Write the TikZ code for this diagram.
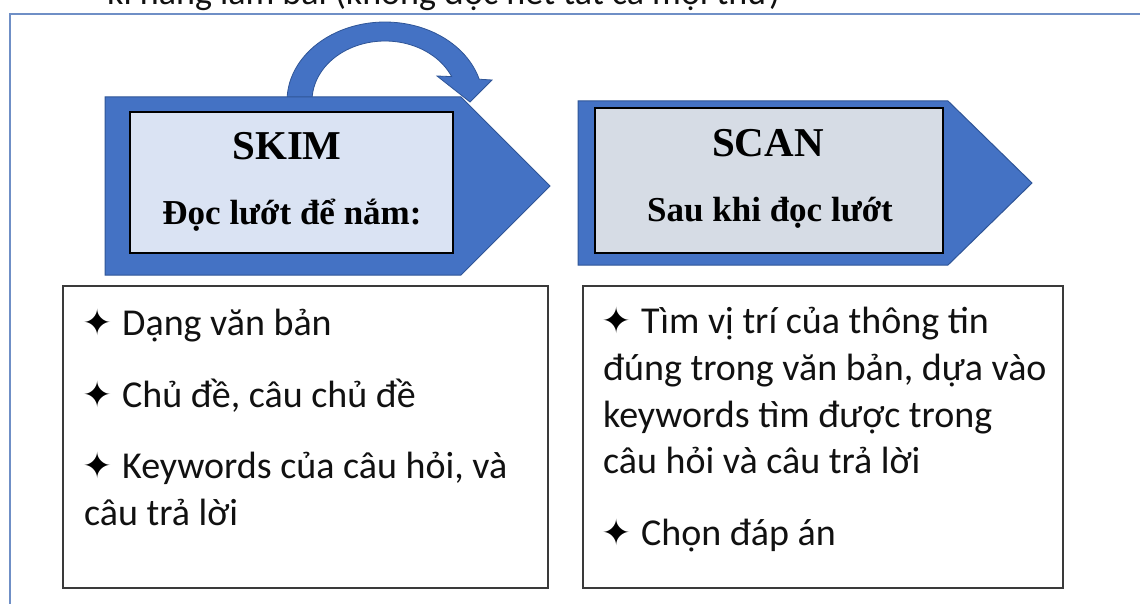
\documentclass[tikz,border=0pt]{standalone}
\usepackage{fontspec}
\setmainfont{Carlito}
\newfontfamily\hdfont{Liberation Serif}
\newfontfamily\symfont{DejaVu Sans}
\definecolor{arrblue}{HTML}{4472C4}
\definecolor{arredge}{HTML}{2F5597}
\definecolor{skimfill}{HTML}{DAE3F3}
\definecolor{scanfill}{HTML}{D6DCE5}
\definecolor{framecol}{HTML}{6F8FC6}
\definecolor{boxedge}{HTML}{3A3A3A}
\definecolor{txt}{HTML}{111111}
\begin{document}
\begin{tikzpicture}[x=1pt,y=-1pt,
  bodytext/.style={font=\fontsize{38}{47}\selectfont, anchor=base west, inner sep=0pt, text=txt},
  startext/.style={font=\symfont\fontsize{36}{42}\selectfont, anchor=base west, inner sep=0pt, text=black},
  headtext/.style={font=\hdfont\bfseries\fontsize{41}{48}\selectfont, anchor=base, inner sep=0pt, text=black},
  subtext/.style={font=\hdfont\bfseries\fontsize{35}{40}\selectfont, anchor=base, inner sep=0pt, text=black},
  pent/.style={fill=arrblue, draw=arredge, line width=1pt, line join=miter},
  innerbox/.style={draw=black, line width=1.8pt},
  listbox/.style={draw=boxedge, line width=2pt, fill=white},
  framel/.style={draw=framecol, line width=2.5pt}]
\useasboundingbox (0,0) rectangle (1140,604);
\clip (0,0) rectangle (1140,604);
\fill[white] (0,0) rectangle (1140,604);
% heading cut off at top
\node[bodytext, font=\fontsize{36}{44}\selectfont] (title) at (107,5) {kĩ năng làm bài (không đọc hết tất cả mọi thứ)};
% outer frame
\draw[framel] (10,610) -- (10,14) -- (1150,14);
% curved arrow
\fill[arrblue, draw=arredge, line width=0.8pt]
  plot[domain=180:16, samples=50] ({385+98*cos(\x)},{101-79*sin(\x)})
  -- (492,80) -- (470,102) -- (437,76)
  -- plot[domain=24:180, samples=50] ({385+73*cos(\x)},{101-60*sin(\x)}) -- cycle;
% pentagon arrows
\path[pent] (105,97) -- (461,97) -- (550,186) -- (461,275) -- (105,275) -- cycle;
\path[pent] (578,101) -- (948,101) -- (1032,183) -- (948,265) -- (578,265) -- cycle;
\draw[innerbox, fill=skimfill] (130,112) rectangle (453,253);
\draw[innerbox, fill=scanfill] (595,108) rectangle (943,253);
\node[headtext] (skim) at (287,160) {SKIM};
\node[subtext] (skimsub) at (292,225) {Đọc lướt để nắm:};
\node[headtext] (scan) at (768,157) {SCAN};
\node[subtext] (scansub) at (770,222) {Sau khi đọc lướt};
% list boxes
\draw[listbox] (63,286) rectangle (548,588);
\draw[listbox] (583,286) rectangle (1063,588);
% left list
\node[startext] (ls1) at (82,335) {✦};
\node[bodytext] (lt1) at (122,335) {Dạng văn bản};
\node[startext] (ls2) at (82,407) {✦};
\node[bodytext] (lt2) at (122,407) {Chủ đề, câu chủ đề};
\node[startext] (ls3) at (82,478) {✦};
\node[bodytext] (lt3) at (122,478) {Keywords của câu hỏi, và};
\node[bodytext] (lt4) at (84,525) {câu trả lời};
% right list
\node[startext] (rs1) at (601,333) {✦};
\node[bodytext] (rt1) at (641,333) {Tìm vị trí của thông tin};
\node[bodytext] (rt2) at (603,380) {đúng trong văn bản, dựa vào};
\node[bodytext] (rt3) at (603,427) {keywords tìm được trong};
\node[bodytext] (rt4) at (603,473) {câu hỏi và câu trả lời};
\node[startext] (rs2) at (601,545) {✦};
\node[bodytext] (rt5) at (641,545) {Chọn đáp án};
\end{tikzpicture}
\end{document}
